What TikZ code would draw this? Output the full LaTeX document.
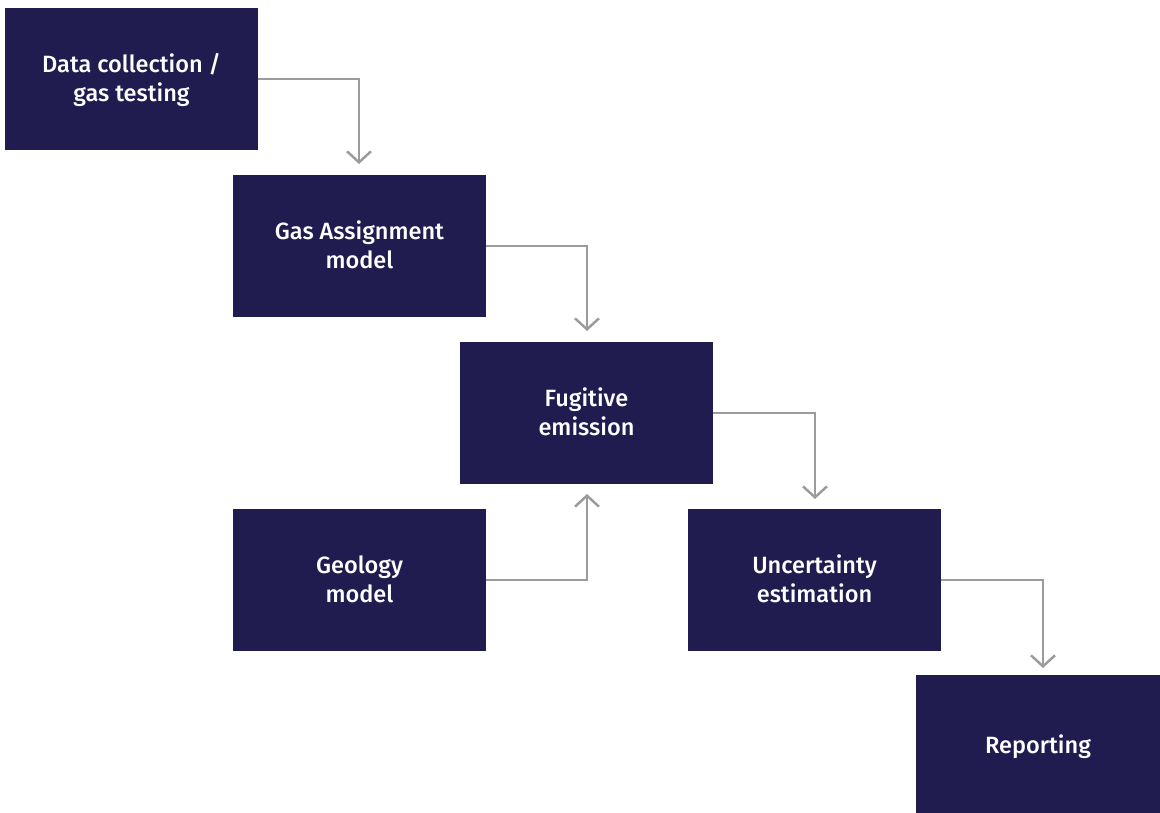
\documentclass[tikz,border=0pt]{standalone}
\usepackage{fontspec}
\setmainfont{Fira Sans}[UprightFont=* Medium]
\usetikzlibrary{arrows.meta}
\definecolor{boxblue}{HTML}{211C4F}
\definecolor{linegray}{HTML}{9B9B9B}
\newcommand\twolines[2]{\vtop{\halign{\hfil##\hfil\cr #1\cr #2\cr}}}
\begin{document}
\begin{tikzpicture}[x=0.02cm,y=-0.02cm,
  stepbox/.style={fill=boxblue, draw=none, minimum width=5.06cm, minimum height=2.84cm, inner sep=0pt},
  steptext/.style={text=white, inner sep=0pt, anchor=base, font=\fontsize{13.4}{16.5}\selectfont},
  conn/.style={draw=linegray, line width=1.4pt, -{Straight Barb[length=0.22cm, width=0.48cm, line width=1.4pt]}}]
\useasboundingbox (0,0) rectangle (1160,813);
\node[stepbox] (dc) at (131.5,79) {};
\node[stepbox] (ga) at (359.5,246) {};
\node[stepbox] (fe) at (586.5,413) {};
\node[stepbox] (gm) at (359.5,580) {};
\node[stepbox] (ue) at (814.5,580) {};
\node[stepbox, minimum width=4.88cm, minimum height=2.76cm] (rp) at (1038,744) {};
\node[steptext] (dct) at ([yshift=-1.30cm]dc.north) {\twolines{Data collection /}{gas testing}};
\node[steptext] (gat) at ([yshift=-1.30cm]ga.north) {\twolines{Gas Assignment}{model}};
\node[steptext] (fet) at ([yshift=-1.30cm]fe.north) {\twolines{Fugitive}{emission}};
\node[steptext] (gmt) at ([yshift=-1.30cm]gm.north) {\twolines{Geology}{model}};
\node[steptext] (uet) at ([yshift=-1.30cm]ue.north) {\twolines{Uncertainty}{estimation}};
\node[steptext] (rpt) at ([yshift=-1.58cm]rp.north) {Reporting};
\coordinate (t1) at (359,164);
\coordinate (t2) at (587,331);
\coordinate (t3) at (815,499);
\coordinate (t4) at (587,494);
\coordinate (t5) at (1043,668);
\draw[conn] (dc.east) -| (t1);
\draw[conn] (ga.east) -| (t2);
\draw[conn] (fe.east) -| (t3);
\draw[conn] (gm.east) -| (t4);
\draw[conn] (ue.east) -| (t5);
\end{tikzpicture}
\end{document}
